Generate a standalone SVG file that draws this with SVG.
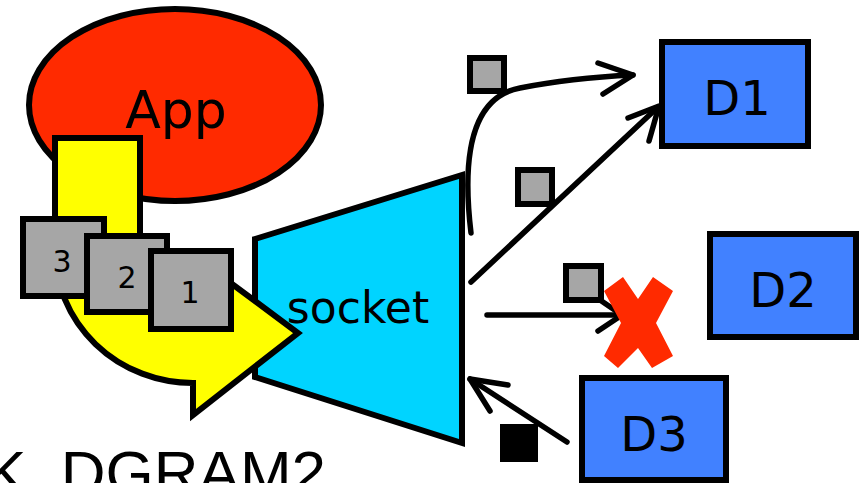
<svg xmlns="http://www.w3.org/2000/svg" width="863" height="483" viewBox="0 0 863 483">
<defs>
<style>
.shape{stroke:#000;stroke-width:6;stroke-linejoin:miter}
.pkt{fill:#a6a6a6;stroke:#000;stroke-width:6}
.dev{fill:#4181ff;stroke:#000;stroke-width:6}
.lbl{font-family:"DejaVu Sans","Noto Sans",sans-serif;fill:#000;text-anchor:middle}
.conn{fill:none;stroke:#000;stroke-width:5.5;stroke-linecap:round;stroke-linejoin:round}
</style>
</defs>
<rect width="863" height="483" fill="#fff"/>
<g id="app">
<ellipse cx="175" cy="105" rx="146" ry="96" fill="#ff2a00" class="shape"/>
<text x="176" y="128" class="lbl" font-size="52">App</text>
</g>
<g id="socket">
<polygon points="255,239 462,175 462,443 255,377" fill="#00d4ff" class="shape"/>
<text x="358" y="323" class="lbl" font-size="44">socket</text>
</g>
<g id="flow">
<path d="M55 138 H140 V245 Q140 300 193 300 V255 L298 333 L193 415 V383 A138 133 0 0 1 55 250 Z" fill="#ffff00" class="shape"/>
</g>
<g id="pkt3">
<rect x="23" y="219" width="81" height="77" class="pkt"/>
<text x="62" y="272" class="lbl" font-size="30">3</text>
</g>
<g id="pkt2">
<rect x="87" y="236" width="80" height="76" class="pkt"/>
<text x="127" y="288" class="lbl" font-size="30">2</text>
</g>
<g id="pkt1">
<rect x="151" y="251" width="80" height="78" class="pkt"/>
<text x="190" y="303" class="lbl" font-size="30">1</text>
</g>
<g id="connectors">
<path class="conn" d="M471 233 Q455 100 520 88 Q570 78 633 75"/>
<path class="conn" d="M598 63 L633 75 L603 94"/>
<path class="conn" d="M471 282 L658 107"/>
<path class="conn" d="M628 118 L659 106 L649 141"/>
<path class="conn" d="M487 315 L622 315"/>
<path class="conn" d="M600 300 L622 315 L598 331"/>
<path class="conn" d="M567 442 L470 379"/>
<path class="conn" d="M508 385 L470 379 L490 411"/>
</g>
<g id="pktA"><rect x="470" y="58" width="34" height="33" class="pkt"/></g>
<g id="pktB"><rect x="518" y="170" width="34" height="34" class="pkt"/></g>
<g id="pktC"><rect x="566" y="266" width="35" height="34" class="pkt"/></g>
<g id="ack"><rect x="500" y="424" width="38" height="38" fill="#000"/></g>
<g id="drop">
<polygon points="604,291 623,277 638,299 653,277 673,291 656,323 673,356 652,368 638,348 618,368 604,356 621,323" fill="#ff2a00"/>
</g>
<g id="d1">
<rect x="662" y="42" width="146" height="104" class="dev"/>
<text x="737" y="115" class="lbl" font-size="48">D1</text>
</g>
<g id="d2">
<rect x="710" y="234" width="146" height="103" class="dev"/>
<text x="783" y="307" class="lbl" font-size="48">D2</text>
</g>
<g id="d3">
<rect x="582" y="378" width="144" height="102" class="dev"/>
<text x="654" y="451" class="lbl" font-size="48">D3</text>
</g>
<text x="-15" y="494" font-family="Liberation Sans, Arial, sans-serif" font-size="62" fill="#000">K_DGRAM2</text>
</svg>
